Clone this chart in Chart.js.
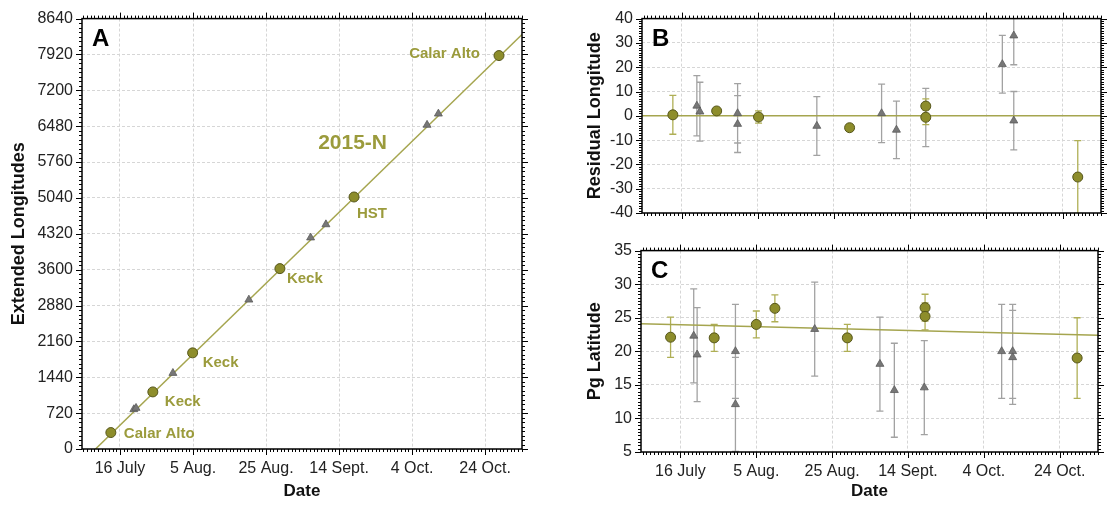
<!DOCTYPE html>
<html>
<head>
    <title>2015-N</title>
    <script src="https://cdn.jsdelivr.net/npm/chart.js"></script>
    <style>
        body { margin: 0; background: #fff; }
        canvas { position: absolute; }
    </style>
</head>
<body>
    <canvas id="chartA" width="560" height="505" style="left:0;top:0"></canvas>
    <canvas id="chartB" width="556" height="232" style="left:560px;top:0"></canvas>
    <canvas id="chartC" width="556" height="273" style="left:560px;top:232px"></canvas>

    <script>
        // days counted from 16 July 2015
        const xMin = -10.4, xMax = 110.1;
        const xTickDays = [0, 20, 40, 60, 80, 100];
        const xTickLabels = ['16 July', '5 Aug.', '25 Aug.', '14 Sept.', '4 Oct.', '24 Oct.'];

        // Panel A - extended longitudes
        const aCircleDays = [-2.5, 9.0, 19.9, 43.8, 64.1, 103.8];
        const aCircleLon = [330, 1146, 1930, 3621, 5059, 7898];
        const aCircleSite = ['Calar Alto', 'Keck', 'Keck', 'Keck', 'HST', 'Calar Alto'];
        const aTriDays = [3.8, 4.4, 14.5, 35.3, 52.2, 56.4, 84.1, 87.2];
        const aTriLon = [796, 822, 1524, 2996, 4243, 4508, 6505, 6730];
        const aFitDays = [-6.7, 110.1];
        const aFitLon = [0, 8322];

        // Panel B - residual longitude
        const bCircleDays = [-2.3, 9.2, 20.2, 44.1, 64.1, 64.1, 104.0];
        const bCircleRes = [0.4, 2.0, -0.5, -4.9, 4.0, -0.6, -25.2];
        const bCircleErr = [8.0, 1.0, 2.5, 1.0, 3.0, 3.0, 15.0];
        const bTriDays = [4.0, 4.8, 14.7, 14.7, 35.5, 52.5, 56.4, 64.1, 84.2, 87.2, 87.2];
        const bTriRes = [4.1, 1.7, 1.0, -3.4, -4.2, 1.0, -5.8, -0.7, 21.2, 33.0, -2.0];
        const bTriErr = [12.4, 12.1, 12.2, 11.7, 12.1, 12.0, 11.8, 12.0, 11.9, 12.0, 12.0];
        const bFitDays = [xMin, xMax];
        const bFitRes = [0, 0];

        // Panel C - Pg latitude
        const cCircleDays = [-2.6, 8.9, 20.0, 24.9, 44.0, 64.5, 64.5, 104.6];
        const cCircleLat = [22.1, 22.0, 24.0, 26.4, 22.0, 26.5, 25.2, 19.0];
        const cCircleErr = [3.0, 2.0, 2.0, 2.0, 2.0, 2.0, 2.0, 6.0];
        const cTriDays = [3.5, 4.4, 14.5, 14.5, 35.4, 52.6, 56.4, 64.3, 84.7, 87.6, 87.6];
        const cTriLat = [22.3, 19.5, 20.0, 12.1, 23.3, 18.1, 14.2, 14.6, 20.0, 20.0, 19.1];
        const cTriErr = [7.0, 7.0, 7.0, 7.0, 7.0, 7.0, 7.0, 7.0, 7.0, 7.0, 7.0];
        const cFitDays = [xMin, xMax];
        const cFitLat = [24.1, 22.4];

        const FONT = 'Arial, "Liberation Sans", sans-serif';
        const OLIVE = '#8d8d2b', OLIVE_EDGE = '#56561c', OLIVE_LINE = '#a5a54f', OLIVE_TEXT = '#9b9b3c';
        const GREY = '#777777', GREY_EDGE = '#5a5a5a', GREY_BAR = '#a2a2a2', OLIVE_BAR = '#afaf55';
        const GRID = '#d6d6d6';

        Chart.defaults.font.family = FONT;
        Chart.defaults.color = '#222';
        Chart.defaults.animation = false;

        const pts = (xs, ys) => xs.map((x, i) => ({ x: x, y: ys[i] }));

        // frame, minor/major ticks on all four sides, error bars, labels
        const panelPlugin = {
            id: 'panel',
            beforeDatasetsDraw(chart, args, o) {
                const { ctx, chartArea: a, scales: { x, y } } = chart;
                ctx.save();
                ctx.beginPath();
                ctx.rect(a.left, a.top, a.width, a.height);
                ctx.clip();
                (o.errors || []).forEach(e => {
                    const data = chart.data.datasets[e.dataset].data;
                    ctx.strokeStyle = e.color;
                    ctx.lineWidth = 1.3;
                    ctx.beginPath();
                    data.forEach((p, i) => {
                        const px = x.getPixelForValue(p.x);
                        const y1 = y.getPixelForValue(p.y + e.err[i]);
                        const y2 = y.getPixelForValue(p.y - e.err[i]);
                        ctx.moveTo(px, y1); ctx.lineTo(px, y2);
                        ctx.moveTo(px - 3.5, y1); ctx.lineTo(px + 3.5, y1);
                        ctx.moveTo(px - 3.5, y2); ctx.lineTo(px + 3.5, y2);
                    });
                    ctx.stroke();
                });
                ctx.restore();
            },
            afterDraw(chart, args, o) {
                const { ctx, chartArea: a, scales: { x, y } } = chart;
                ctx.save();
                ctx.strokeStyle = '#000';
                ctx.lineWidth = 1;
                ctx.beginPath();
                const isMajor = (s, v) => s.ticks.some(t => Math.abs(t.value - v) < 1e-6);
                for (let k = Math.ceil(x.min / o.minorX); k * o.minorX <= x.max + 1e-9; k++) {
                    const v = k * o.minorX;
                    const px = Math.round(x.getPixelForValue(v)) + 0.5;
                    const len = isMajor(x, v) ? 6 : 3;
                    ctx.moveTo(px, a.bottom); ctx.lineTo(px, a.bottom + len);
                    ctx.moveTo(px, a.top); ctx.lineTo(px, a.top - len);
                }
                for (let k = Math.ceil(y.min / o.minorY); k * o.minorY <= y.max + 1e-9; k++) {
                    const v = k * o.minorY;
                    const py = Math.round(y.getPixelForValue(v)) + 0.5;
                    const len = isMajor(y, v) ? 6 : 3;
                    ctx.moveTo(a.left, py); ctx.lineTo(a.left - len, py);
                    ctx.moveTo(a.right, py); ctx.lineTo(a.right + len, py);
                }
                ctx.stroke();
                ctx.lineWidth = 1.5;
                ctx.strokeRect(a.left, a.top, a.width, a.height);

                // panel letter
                ctx.fillStyle = '#000';
                ctx.font = 'bold 24px ' + FONT;
                ctx.textBaseline = 'alphabetic';
                ctx.textAlign = 'left';
                ctx.fillText(o.letter, a.left + 10, a.top + 27);

                // site names next to the points
                ctx.fillStyle = OLIVE_TEXT;
                (o.notes || []).forEach(n => {
                    ctx.font = 'bold ' + n.size + 'px ' + FONT;
                    ctx.textAlign = n.align;
                    ctx.textBaseline = 'middle';
                    ctx.fillText(n.text, x.getPixelForValue(n.x) + n.dx, y.getPixelForValue(n.y) + n.dy);
                });
                ctx.restore();
            }
        };

        function xScale(showLabels, height, labelPad) {
            return {
                type: 'linear', min: xMin, max: xMax,
                afterBuildTicks: s => { s.ticks = xTickDays.map(v => ({ value: v })); },
                afterFit: s => { s.height = height; },
                ticks: {
                    display: showLabels, padding: labelPad, maxRotation: 0, color: '#222',
                    font: { size: 16 },
                    callback: v => xTickLabels[xTickDays.indexOf(v)]
                },
                grid: { color: GRID, lineWidth: 1, drawTicks: false },
                border: { display: false, dash: [3, 2] },
                title: showLabels ? { display: true, text: 'Date', color: '#111', font: { size: 17, weight: 'bold' }, padding: { top: 0, bottom: 3 } } : { display: false }
            };
        }

        function yScale(min, max, step, width, title, titlePad) {
            return {
                type: 'linear', min: min, max: max,
                afterFit: s => { s.width = width; },
                ticks: { stepSize: step, padding: 9, color: '#222', font: { size: 16 }, callback: v => String(v) },
                grid: { color: GRID, lineWidth: 1, drawTicks: false },
                border: { display: false, dash: [3, 2] },
                title: { display: true, text: title, color: '#111', font: { size: 18, weight: 'bold' }, padding: { top: titlePad, bottom: 0 } }
            };
        }

        function circles(data) {
            return { data: data, pointStyle: 'circle', pointRadius: 5, backgroundColor: OLIVE, borderColor: OLIVE_EDGE, borderWidth: 1 };
        }
        function triangles(data) {
            return { data: data, pointStyle: 'triangle', pointRadius: 4.6, backgroundColor: GREY, borderColor: GREY_EDGE, borderWidth: 0.8 };
        }
        function fitLine(data) {
            return { data: data, showLine: true, pointRadius: 0, borderColor: OLIVE_LINE, borderWidth: 1.5, fill: false };
        }

        const baseOptions = (padding) => ({
            responsive: false,
            events: [],
            layout: { padding: padding },
            plugins: { legend: { display: false }, tooltip: { enabled: false } }
        });

        // Panel A
        const optA = baseOptions({ left: 0, top: 15, right: 38, bottom: 0 });
        optA.scales = { x: xScale(true, 56, 10), y: yScale(0, 8640, 720, 82, 'Extended Longitudes', 8) };
        const noteOffsets = [
            { dx: 13, dy: 1, align: 'left' },
            { dx: 12, dy: 10, align: 'left' },
            { dx: 10, dy: 10, align: 'left' },
            { dx: 7, dy: 10, align: 'left' },
            { dx: 3, dy: 17, align: 'left' },
            { dx: -19, dy: -2, align: 'right' }
        ];
        const notesA = aCircleSite.map((s, i) => Object.assign({ text: s, x: aCircleDays[i], y: aCircleLon[i], size: 15 }, noteOffsets[i]));
        notesA.push({ text: '2015-N', x: 63.7, y: 6140, dx: 0, dy: 0, size: 21, align: 'center' });
        optA.plugins.panel = { letter: 'A', minorX: 1, minorY: 90, notes: notesA };
        new Chart(document.getElementById('chartA'), {
            type: 'scatter',
            data: { datasets: [circles(pts(aCircleDays, aCircleLon)), triangles(pts(aTriDays, aTriLon)), fitLine(pts(aFitDays, aFitLon))] },
            options: optA,
            plugins: [panelPlugin]
        });

        // Panel B
        const optB = baseOptions({ left: 0, top: 15, right: 15, bottom: 0 });
        optB.scales = { x: xScale(false, 19, 0), y: yScale(-40, 40, 10, 82, 'Residual Longitude', 24) };
        optB.plugins.panel = {
            letter: 'B', minorX: 1, minorY: 1,
            errors: [{ dataset: 1, err: bTriErr, color: GREY_BAR }, { dataset: 0, err: bCircleErr, color: OLIVE_BAR }]
        };
        new Chart(document.getElementById('chartB'), {
            type: 'scatter',
            data: { datasets: [circles(pts(bCircleDays, bCircleRes)), triangles(pts(bTriDays, bTriRes)), fitLine(pts(bFitDays, bFitRes))] },
            options: optB,
            plugins: [panelPlugin]
        });

        // Panel C
        const optC = baseOptions({ left: 0, top: 18, right: 18, bottom: 0 });
        optC.scales = { x: xScale(true, 53, 10), y: yScale(5, 35, 5, 81, 'Pg Latitude', 24) };
        optC.plugins.panel = {
            letter: 'C', minorX: 1, minorY: 0.5,
            errors: [{ dataset: 1, err: cTriErr, color: GREY_BAR }, { dataset: 0, err: cCircleErr, color: OLIVE_BAR }]
        };
        new Chart(document.getElementById('chartC'), {
            type: 'scatter',
            data: { datasets: [circles(pts(cCircleDays, cCircleLat)), triangles(pts(cTriDays, cTriLat)), fitLine(pts(cFitDays, cFitLat))] },
            options: optC,
            plugins: [panelPlugin]
        });
    </script>
</body>
</html>
